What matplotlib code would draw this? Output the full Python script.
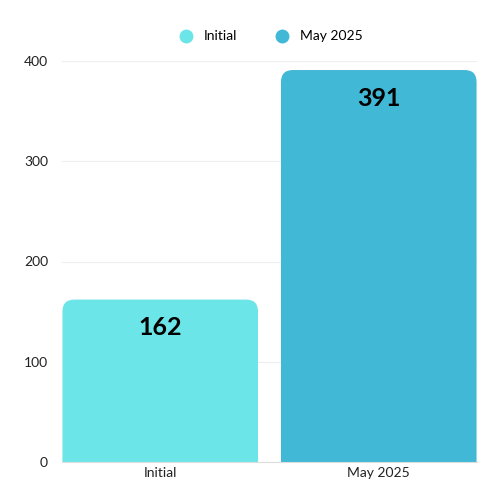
import matplotlib
matplotlib.use("Agg")
import matplotlib.pyplot as plt
from matplotlib.path import Path
from matplotlib.patches import PathPatch
from matplotlib.lines import Line2D

categories = ["Initial", "May 2025"]
values = [162, 391]
colors = ["#6CE5E8", "#41B8D5"]

plt.rcParams['font.family'] = ['Lato', 'DejaVu Sans']
fig = plt.figure(figsize=(5, 5), dpi=100)
ax = fig.add_axes([0.124, 0.076, 0.83, 0.802])
w = 0.895
ax.set_xlim(-w/2 - 0.002, 1 + w/2 + 0.002)
ax.set_ylim(0, 400)
fig.canvas.draw()
# radius in data units
px_x = ax.transData.transform((1, 0))[0] - ax.transData.transform((0, 0))[0]
px_y = ax.transData.transform((0, 1))[1] - ax.transData.transform((0, 0))[1]
rpx = 12 * fig.dpi / 100
rx, ry = rpx / px_x, rpx / px_y

for i, (v, c) in enumerate(zip(values, colors)):
    x0, x1 = i - w/2, i + w/2
    verts = [(x0, 0), (x0, v - ry), (x0, v), (x0 + rx, v), (x1 - rx, v), (x1, v), (x1, v - ry), (x1, 0), (x0, 0)]
    codes = [Path.MOVETO, Path.LINETO, Path.CURVE3, Path.CURVE3, Path.LINETO, Path.CURVE3, Path.CURVE3, Path.LINETO, Path.CLOSEPOLY]
    ax.add_patch(PathPatch(Path(verts, codes), facecolor=c, edgecolor='none', zorder=2))
    ax.text(i, v - 28, str(v), ha='center', va='center', fontsize=18, fontweight='bold', color='black', zorder=3)

ax.set_yticks([0, 100, 200, 300, 400])
ax.set_xticks([0, 1])
ax.set_xticklabels(categories)
ax.tick_params(length=0, labelsize=10, colors='#222222')
ax.tick_params(axis='y', pad=10)
ax.grid(axis='y', color='#eeeeee', linewidth=0.8, zorder=0)
for s in ['top', 'right', 'left']:
    ax.spines[s].set_visible(False)
ax.spines['bottom'].set_color('#dddddd')

handles = [Line2D([], [], marker='o', linestyle='none', markersize=10, markerfacecolor=c, markeredgecolor='none') for c in colors]
fig.legend(handles, categories, loc='center', bbox_to_anchor=(0.535, 0.927), ncol=2, frameon=False,
           fontsize=10, handletextpad=0.3, columnspacing=2.2)
fig.savefig("out.png", dpi=100)
